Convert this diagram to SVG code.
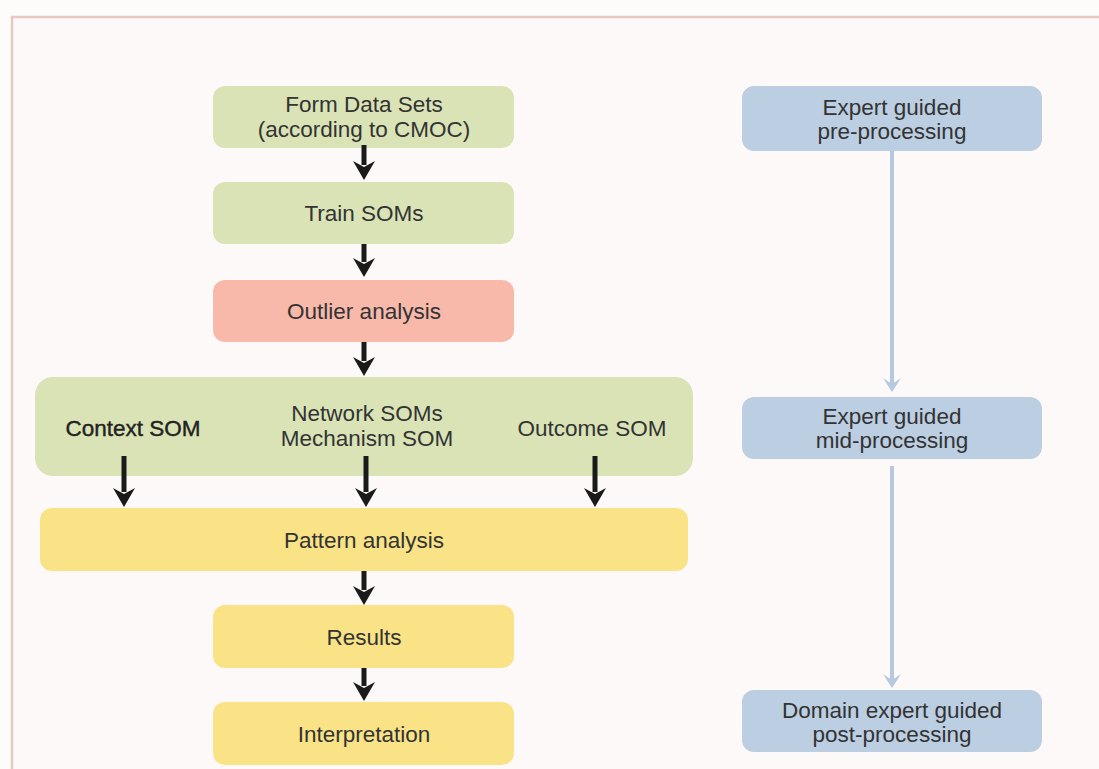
<svg xmlns="http://www.w3.org/2000/svg" width="1099" height="769" viewBox="0 0 1099 769">
<defs>
<style>
.t{font-family:"Liberation Sans",Arial,sans-serif;font-size:22.5px;fill:#333;text-anchor:middle;}
.tb{font-family:"Liberation Sans",Arial,sans-serif;font-size:22.5px;fill:#222;text-anchor:middle;stroke:#222;stroke-width:0.4;}
.g{fill:#d9e3b6;}
.r{fill:#f8b9aa;}
.y{fill:#f9e386;}
.b{fill:#bccee2;}
.ak{stroke:#1a1a1a;stroke-width:5;fill:none;}
.ah{fill:#1a1a1a;}
.bl{stroke:#b6c9e0;stroke-width:4;fill:none;}
.bh{fill:#b6c9e0;}
</style>
</defs>
<rect x="0" y="0" width="1099" height="769" fill="#fdfcfb"/>
<rect x="12" y="17" width="1100" height="760" fill="#fdf9f8" stroke="#e8c9c1" stroke-width="2.5"/>
<g id="form-data-sets"><rect class="g" x="213" y="86" width="301" height="62" rx="12"/><text class="t" x="364" y="112">Form Data Sets</text><text class="t" x="364" y="137">(according to CMOC)</text></g>
<g id="train-soms"><rect class="g" x="213" y="182" width="301" height="62" rx="12"/><text class="t" x="364" y="221">Train SOMs</text></g>
<g id="outlier-analysis"><rect class="r" x="213" y="280" width="301" height="62" rx="12"/><text class="t" x="364" y="319">Outlier analysis</text></g>
<g id="soms"><rect class="g" x="35" y="377" width="658" height="99" rx="18"/><text class="tb" x="133" y="436">Context SOM</text><text class="t" x="367" y="421">Network SOMs</text><text class="t" x="367" y="446">Mechanism SOM</text><text class="t" x="592" y="436">Outcome SOM</text></g>
<g id="pattern-analysis"><rect class="y" x="40" y="508" width="648" height="63" rx="12"/><text class="t" x="364" y="548">Pattern analysis</text></g>
<g id="results"><rect class="y" x="213" y="605" width="301" height="63" rx="12"/><text class="t" x="364" y="645">Results</text></g>
<g id="interpretation"><rect class="y" x="213" y="702" width="301" height="63" rx="12"/><text class="t" x="364" y="742">Interpretation</text></g>
<g id="pre-processing"><rect class="b" x="742" y="86" width="300" height="65" rx="12"/><text class="t" x="892" y="115">Expert guided</text><text class="t" x="892" y="139">pre-processing</text></g>
<g id="mid-processing"><rect class="b" x="742" y="397" width="300" height="62" rx="12"/><text class="t" x="892" y="424">Expert guided</text><text class="t" x="892" y="448">mid-processing</text></g>
<g id="post-processing"><rect class="b" x="742" y="690" width="300" height="62" rx="12"/><text class="t" x="892" y="718">Domain expert guided</text><text class="t" x="892" y="742">post-processing</text></g>
<g id="connectors">
<line class="ak" x1="364" y1="145" x2="364" y2="165"/><path class="ah" d="M353 161 L364 167 L375 161 L364 180 Z"/>
<line class="ak" x1="364" y1="244" x2="364" y2="262"/><path class="ah" d="M353 258 L364 264 L375 258 L364 277 Z"/>
<line class="ak" x1="364" y1="342" x2="364" y2="361"/><path class="ah" d="M353 357 L364 363 L375 357 L364 376 Z"/>
<line class="ak" x1="124" y1="456" x2="124" y2="492"/><path class="ah" d="M113 488 L124 494 L135 488 L124 507 Z"/>
<line class="ak" x1="366" y1="456" x2="366" y2="492"/><path class="ah" d="M355 488 L366 494 L377 488 L366 507 Z"/>
<line class="ak" x1="595" y1="456" x2="595" y2="492"/><path class="ah" d="M584 488 L595 494 L606 488 L595 507 Z"/>
<line class="ak" x1="364" y1="571" x2="364" y2="590"/><path class="ah" d="M353 586 L364 592 L375 586 L364 605 Z"/>
<line class="ak" x1="364" y1="668" x2="364" y2="686"/><path class="ah" d="M353 682 L364 688 L375 682 L364 701 Z"/>
<line class="bl" x1="892" y1="151" x2="892" y2="384"/><path class="bh" d="M883 378 L892 384 L901 378 L892 392 Z"/>
<line class="bl" x1="892" y1="466" x2="892" y2="680"/><path class="bh" d="M883 674 L892 680 L901 674 L892 688 Z"/>
</g>
</svg>
